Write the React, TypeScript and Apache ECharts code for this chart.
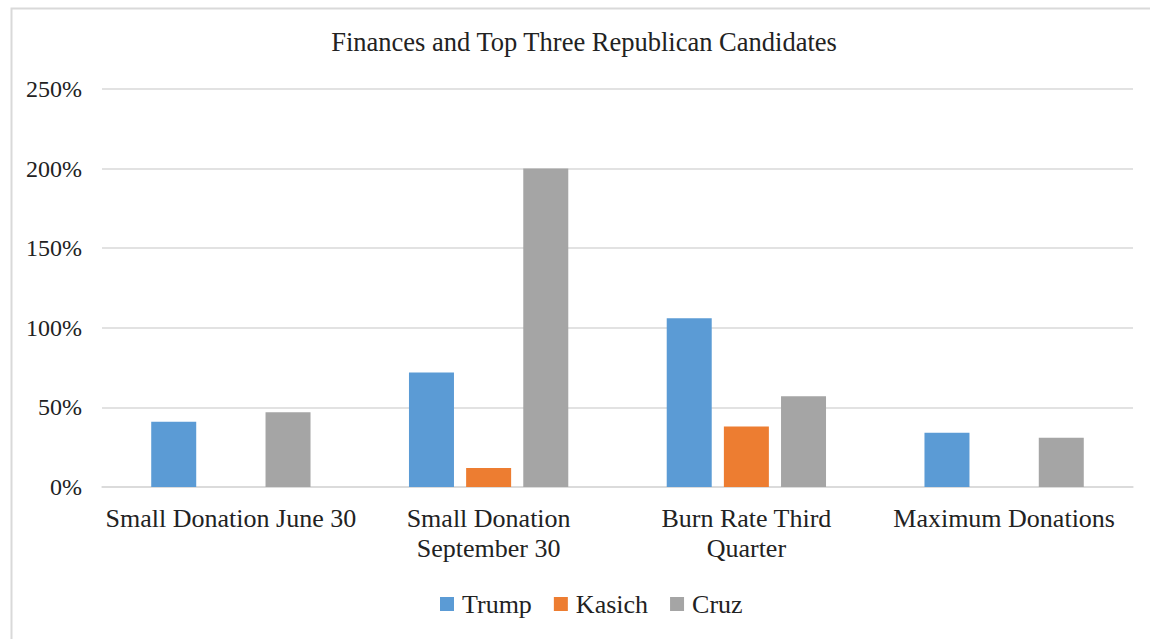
import React, { useEffect, useRef } from "react";
import * as echarts from "echarts";

const categories = [
  "Small Donation June 30",
  "Small Donation\nSeptember 30",
  "Burn Rate Third\nQuarter",
  "Maximum Donations",
];
const trump = [41, 72, 106, 34];
const kasich = [0, 12, 38, 0];
const cruz = [47, 200, 57, 31];
const yTicks = { min: 0, max: 250, interval: 50 };

const FONT = "serif";

export default function App() {
  const ref = useRef<HTMLDivElement>(null);
  useEffect(() => {
    if (!ref.current) return;
    const chart = echarts.init(ref.current, null, { renderer: "svg" });
    chart.setOption({
      animation: false,
      backgroundColor: "#ffffff",
      textStyle: { fontFamily: FONT, color: "#222" },
      graphic: [
        {
          type: "rect",
          left: 9,
          top: 6,
          shape: { x: 0, y: 0, width: 1300, height: 800 },
          style: { fill: "none", stroke: "#d9d9d9", lineWidth: 2 },
          silent: true,
        },
      ],
      title: {
        text: "Finances and Top Three Republican Candidates",
        left: 579,
        textAlign: "center",
        top: 23,
        textStyle: { fontFamily: FONT, fontSize: 26.5, fontWeight: "normal", color: "#222" },
      },
      legend: {
        left: 435,
        top: 586,
        itemWidth: 14,
        itemHeight: 14,
        itemGap: 22,
        icon: "rect",
        textStyle: { fontFamily: FONT, fontSize: 26, color: "#222", padding: [0, 0, 0, 3] },
        data: ["Trump", "Kasich", "Cruz"],
      },
      grid: { left: 102, right: 17, top: 89, bottom: 152, containLabel: false },
      xAxis: {
        type: "category",
        data: categories,
        axisLine: { lineStyle: { color: "#d9d9d9", width: 1.5 } },
        axisTick: { show: false },
        axisLabel: {
          fontFamily: FONT,
          fontSize: 26,
          color: "#222",
          margin: 16,
          lineHeight: 30,
          interval: 0,
        },
      },
      yAxis: {
        type: "value",
        min: yTicks.min,
        max: yTicks.max,
        interval: yTicks.interval,
        axisLine: { show: false },
        axisTick: { show: false },
        splitLine: { lineStyle: { color: "#d9d9d9", width: 1.5 } },
        axisLabel: {
          fontFamily: FONT,
          fontSize: 24,
          color: "#222",
          margin: 20,
          formatter: "{value}%",
        },
      },
      series: [
        { name: "Trump", type: "bar", data: trump, barWidth: 45, barGap: "27%", itemStyle: { color: "#5B9BD5" } },
        { name: "Kasich", type: "bar", data: kasich, barWidth: 45, barGap: "27%", itemStyle: { color: "#ED7D31" } },
        { name: "Cruz", type: "bar", data: cruz, barWidth: 45, barGap: "27%", itemStyle: { color: "#A5A5A5" } },
      ],
    });
    return () => chart.dispose();
  }, []);
  return (
    <div
      ref={ref}
      style={{ position: "fixed", left: 0, top: 0, width: 1150, height: 639 }}
    />
  );
}
